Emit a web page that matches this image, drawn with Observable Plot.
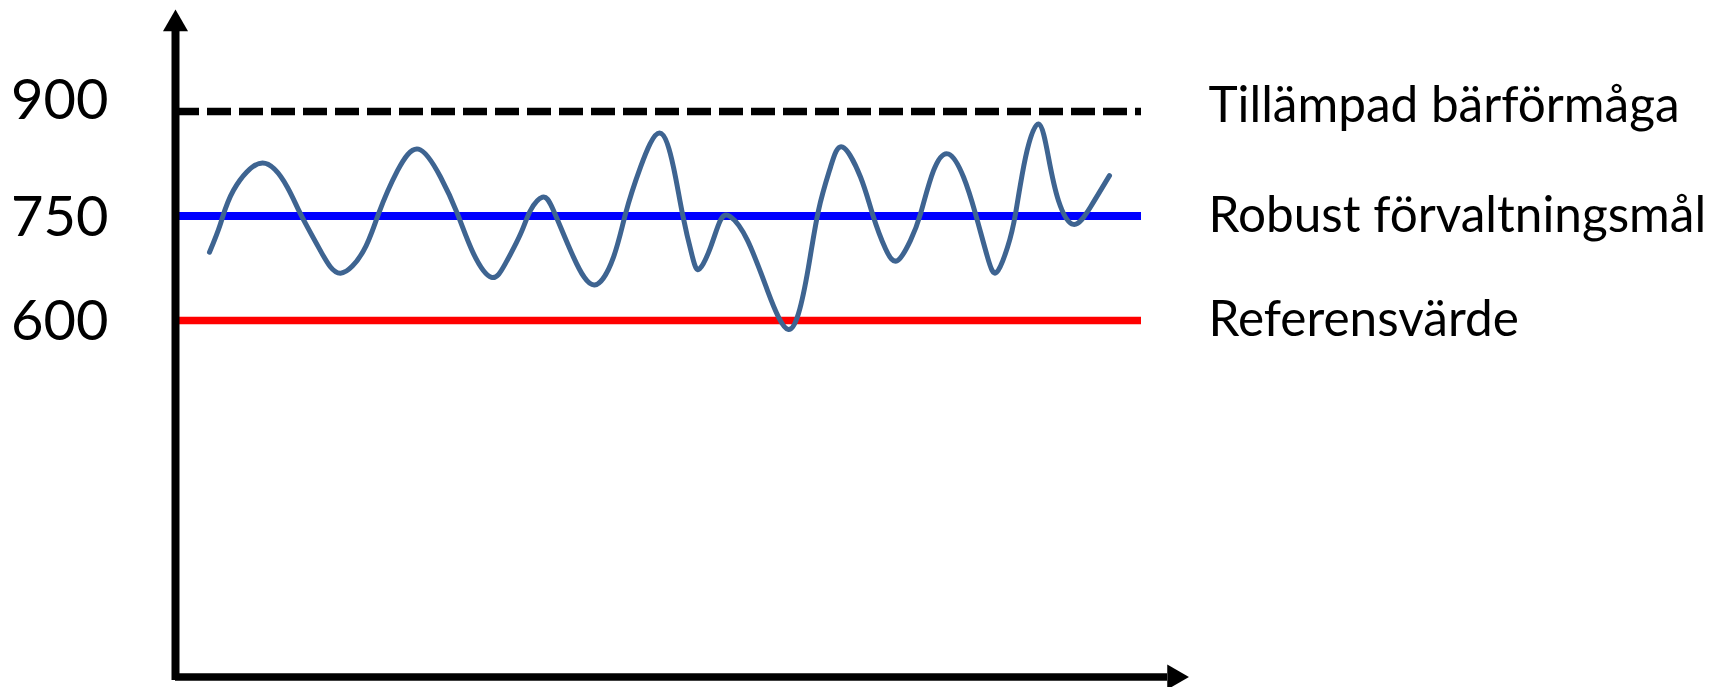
<!DOCTYPE html>
<html>
<head>
<meta charset="utf-8">
<script src="https://cdn.jsdelivr.net/npm/d3@7"></script>
<script src="https://cdn.jsdelivr.net/npm/@observablehq/plot@0.6"></script>
<style>
  html, body { margin: 0; padding: 0; background: #ffffff; }
  #chart svg { display: block; }
</style>
</head>
<body>
<div id="chart"></div>
<script>
// ---- Data ----
const refLabels = ["Tillämpad bärförmåga", "Robust förvaltningsmål", "Referensvärde"];
const refValues = [900, 750, 600];
const tickValues = [900, 750, 600];

// Fluctuating series (time index, value)
const seriesT = [3.4, 4.5, 5.8, 8.7, 11.2, 12.5, 14.5, 16.5, 18.8, 20.3, 22.2, 24.3, 26.5, 28.2, 29.8, 31.6,
  33.0, 34.5, 35.5, 36.7, 37.8, 39.8, 41.9, 43.8, 45.0, 46.5, 48.4, 49.8, 50.7, 51.7, 52.4, 53.5, 54.5, 55.5,
  57.2, 59.2, 60.3, 61.3, 62.3, 63.3, 64.3, 65.5, 66.7, 68.5, 69.7, 71.0, 72.2, 73.5, 74.5, 75.8, 77.3, 78.8,
  80.0, 81.2, 82.1, 83.2, 84.0, 85.0, 86.3, 87.3, 88.3, 89.8, 91.5, 93.4];
const seriesV = [698, 739, 787, 826, 791, 753, 700, 668, 700, 753, 815, 846, 806, 753, 696, 662,
  682, 724, 758, 777, 758, 691, 651, 691, 753, 820, 869, 820, 753, 691, 674, 705, 744, 749,
  715, 643, 605, 587, 610, 677, 758, 820, 849, 806, 753, 703, 686, 715, 753, 815, 839, 806,
  753, 691, 669, 705, 753, 834, 882, 834, 772, 738, 763, 808];

const series = seriesT.map((t, i) => ({t, v: seriesV[i]}));
const refs = refLabels.map((label, i) => ({label, value: refValues[i]}));

// ---- Axis decoration extents (in scale units) ----
const xAxisLevel = 88.3;      // y value where the horizontal axis sits
const yAxisBottom = 83.3;
const yAxisTop = 1016.5;
const yArrowCenter = 1025.6;
const xAxisStart = 0;
const xAxisEnd = 99.2;
const xArrowCenter = 99.9;

const W = 1725, H = 687;

const chart = Plot.plot({
  width: W,
  height: H,
  marginLeft: 175,
  marginRight: W - 1141,
  marginTop: 111,
  marginBottom: H - 320,
  x: {domain: [0, 96.6], axis: null},
  y: {domain: [600, 900], axis: null},
  style: {fontFamily: "Lato, 'Open Sans', sans-serif", background: "#ffffff", overflow: "visible"},
  marks: [
    // reference lines
    Plot.ruleY([refs[0]], {y: "value", stroke: "#000000", strokeWidth: 7.5, strokeDasharray: "24,8"}),
    Plot.ruleY([refs[1]], {y: "value", stroke: "#0000FF", strokeWidth: 8}),
    Plot.ruleY([refs[2]], {y: "value", stroke: "#FF0000", strokeWidth: 7.5}),
    // fluctuating series
    Plot.line(series, {x: "t", y: "v", curve: "natural", stroke: "#3E6491", strokeWidth: 5}),
    // axes with arrows
    Plot.ruleX([0], {y1: yAxisBottom, y2: yAxisTop, stroke: "#000000", strokeWidth: 8}),
    Plot.ruleY([xAxisLevel], {x1: xAxisStart, x2: xAxisEnd, stroke: "#000000", strokeWidth: 7.5}),
    Plot.dot([0], {x: d => d, y: () => yArrowCenter, symbol: "triangle", r: 9.3, fill: "#000000", stroke: null}),
    Plot.dot([0], {x: () => xArrowCenter, y: () => xAxisLevel, symbol: "triangle", r: 9.3, rotate: 90, fill: "#000000", stroke: null}),
    // tick labels
    Plot.axisY(tickValues.filter(v => v === 900), {anchor: "left", tickSize: 0, tickPadding: 67, fontSize: 56, label: null, dy: -10, fill: "#000000"}),
    Plot.axisY(tickValues.filter(v => v !== 900), {anchor: "left", tickSize: 0, tickPadding: 67, fontSize: 56, label: null, dy: 2, fill: "#000000"}),
    // right-hand labels
    Plot.text(refs.slice(0, 1), {x: () => 96.6, y: "value", text: "label", dx: 67, dy: -5, textAnchor: "start", fontSize: 49.5, fill: "#000000"}),
    Plot.text(refs.slice(1), {x: () => 96.6, y: "value", text: "label", dx: 67, dy: 0, textAnchor: "start", fontSize: 49.5, fill: "#000000"})
  ]
});

document.getElementById("chart").appendChild(chart);
</script>
</body>
</html>
